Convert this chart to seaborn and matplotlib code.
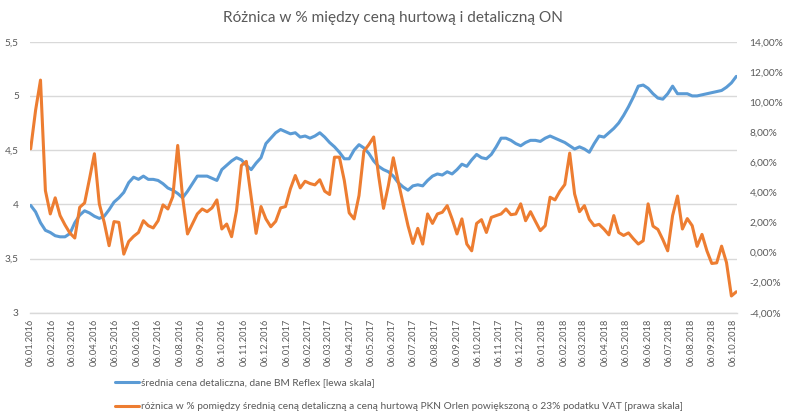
import numpy as np
import pandas as pd
import matplotlib
matplotlib.use("Agg")
import matplotlib.pyplot as plt
import matplotlib.dates as mdates
from matplotlib.ticker import FixedLocator, FuncFormatter
import seaborn as sns

# ---------------- data ----------------
start_date = "2016-01-06"

retail_price = [
    3.99, 3.93, 3.83, 3.76, 3.74, 3.71, 3.70, 3.70, 3.73, 3.83,
    3.90, 3.94, 3.92, 3.89, 3.87, 3.89, 3.95, 4.02, 4.06, 4.11,
    4.20, 4.25, 4.23, 4.26, 4.23, 4.23, 4.22, 4.19, 4.15,
    4.13, 4.10, 4.06, 4.12, 4.19, 4.26, 4.26, 4.26, 4.24, 4.22,
    4.32, 4.36, 4.40, 4.43, 4.41, 4.36, 4.32, 4.38, 4.43, 4.56,
    4.61, 4.66, 4.69, 4.67, 4.65, 4.66, 4.62, 4.63, 4.61,
    4.63, 4.66, 4.62, 4.57, 4.53, 4.48, 4.42, 4.42, 4.50, 4.55,
    4.52, 4.47, 4.40, 4.35, 4.32, 4.30, 4.26, 4.20, 4.16, 4.13,
    4.17, 4.18, 4.17, 4.22, 4.26, 4.28, 4.27, 4.30,
    4.28, 4.32, 4.37, 4.35, 4.41, 4.46, 4.43, 4.42, 4.46, 4.53,
    4.61, 4.61, 4.59, 4.56, 4.54, 4.57, 4.59, 4.59, 4.58, 4.61,
    4.63, 4.61, 4.59, 4.57, 4.54, 4.51, 4.53, 4.51, 4.48,
    4.56, 4.63, 4.62, 4.66, 4.70, 4.75, 4.82, 4.90, 4.99, 5.09,
    5.10, 5.07, 5.02, 4.98, 4.97, 5.02, 5.09, 5.02, 5.02, 5.02,
    5.00, 5.00, 5.01, 5.02, 5.03, 5.04, 5.05, 5.08, 5.12, 5.18,
]

margin_pct = [
    6.89, 9.45, 11.45, 4.11, 2.56, 3.63, 2.45, 1.83, 1.29, 0.96,
    3.00, 3.29, 4.89, 6.56, 3.23, 2.00, 0.45, 2.05, 2.00, -0.11,
    0.73, 1.07, 1.33, 2.11, 1.78, 1.63, 2.11, 3.16, 2.89,
    3.71, 7.11, 3.67, 1.23, 1.89, 2.56, 2.89, 2.71, 2.96, 3.49,
    1.56, 1.89, 1.05, 2.78, 5.78, 6.05, 3.67, 1.27, 3.05, 2.23,
    1.71, 2.07, 2.96, 3.05, 4.23, 5.11, 4.29, 4.73, 4.58,
    4.49, 4.83, 4.07, 3.85, 6.33, 6.33, 4.78, 2.63, 2.23, 3.78,
    6.73, 7.16, 7.67, 5.11, 2.93, 4.45, 6.29, 4.71, 3.23, 1.78,
    0.60, 1.60, 0.56, 2.56, 1.93, 2.56, 2.67, 3.11,
    2.23, 1.23, 2.23, 0.56, 0.11, 1.93, 2.18, 1.33, 2.33, 2.45,
    2.56, 2.89, 2.51, 2.56, 3.23, 2.11, 2.71, 2.07, 1.45, 1.78,
    3.67, 3.49, 4.07, 4.51, 6.60, 3.89, 2.71, 3.11, 2.20,
    1.78, 1.87, 1.55, 1.17, 2.45, 1.33, 1.13, 1.30, 0.91, 0.56,
    0.78, 3.23, 1.75, 1.53, 0.86, 0.11, 2.45, 3.75, 1.56, 2.25,
    1.78, 0.41, 1.20, 0.11, -0.73, -0.69, 0.42, -0.67, -2.89, -2.61,
]

title = "Różnica w % między ceną hurtową i detaliczną ON"
label_retail = "średnia cena detaliczna, dane BM Reflex [lewa skala]"
label_margin = ("różnica w % pomiędzy średnią ceną detaliczną a ceną hurtową "
                "PKN Orlen powiększoną o 23% podatku VAT [prawa skala]")

left_ticks = [3.0, 3.5, 4.0, 4.5, 5.0, 5.5]
right_ticks = [-4, -2, 0, 2, 4, 6, 8, 10, 12, 14]

dates = pd.date_range(start_date, periods=len(retail_price), freq="7D")
df = pd.DataFrame({"date": dates, "retail": retail_price, "margin": margin_pct})
tick_dates = pd.date_range("2016-01-01", "2018-10-01", freq="MS") + pd.Timedelta(days=5)

# ---------------- style ----------------
sns.set_theme(style="white")
plt.rcParams["font.family"] = ["Lato", "DejaVu Sans"]
TXT = "#595959"
GRID = "#D9D9D9"
BLUE = "#5B9BD5"
ORANGE = "#ED7D31"

fig = plt.figure(figsize=(7.86, 4.20), dpi=100)
ax = fig.add_axes([30 / 786, 1 - 312.7 / 420, (737 - 30) / 786, (312.7 - 41.7) / 420])
ax2 = ax.twinx()

sns.lineplot(data=df, x="date", y="retail", ax=ax, color=BLUE, linewidth=2.2,
             legend=False)
sns.lineplot(data=df, x="date", y="margin", ax=ax2, color=ORANGE, linewidth=2.2,
             legend=False)

ax.set_xlim(pd.Timestamp("2016-01-05"), pd.Timestamp("2018-10-11"))
ax.set_ylim(3.0, 5.5)
ax2.set_ylim(-4, 14)

ax.yaxis.set_major_locator(FixedLocator(left_ticks))
ax.yaxis.set_major_formatter(FuncFormatter(lambda v, p: ("%g" % v).replace(".", ",")))
ax2.yaxis.set_major_locator(FixedLocator(right_ticks))
ax2.yaxis.set_major_formatter(FuncFormatter(lambda v, p: ("%.2f%%" % v).replace(".", ",")))

ax.set_xticks(tick_dates)
ax.xaxis.set_major_formatter(mdates.DateFormatter("%d.%m.%Y"))
for lab in ax.get_xticklabels():
    lab.set_rotation(90)

ax.grid(axis="y", color=GRID, linewidth=1.0)
ax.grid(axis="x", visible=False)
ax2.grid(False)
for a in (ax, ax2):
    for s in a.spines.values():
        s.set_visible(False)
ax.spines["bottom"].set_visible(True)
ax.spines["bottom"].set_color(GRID)
ax.spines["bottom"].set_linewidth(1.0)

ax.tick_params(axis="y", length=0, pad=8, labelsize=7.3, labelcolor=TXT)
ax2.tick_params(axis="y", length=0, pad=9, labelsize=7.3, labelcolor=TXT)
ax.tick_params(axis="x", length=0, pad=4, labelsize=6.7, labelcolor=TXT)
ax.set_xlabel("")
ax.set_ylabel("")
ax2.set_ylabel("")

fig.text(0.5, 1 - 18 / 420, title, ha="center", va="center", fontsize=11.1, color=TXT)

h1 = ax.get_lines()[0]
h2 = ax2.get_lines()[0]
fig.legend([h1, h2], [label_retail, label_margin], loc="upper left",
           bbox_to_anchor=(115 / 786, 1 - 378 / 420), frameon=False, ncol=1,
           fontsize=7.3, labelcolor=TXT, handlelength=2.4, handletextpad=0.2,
           labelspacing=1.5, borderaxespad=0, borderpad=0)

fig.savefig("out.png", dpi=100)
